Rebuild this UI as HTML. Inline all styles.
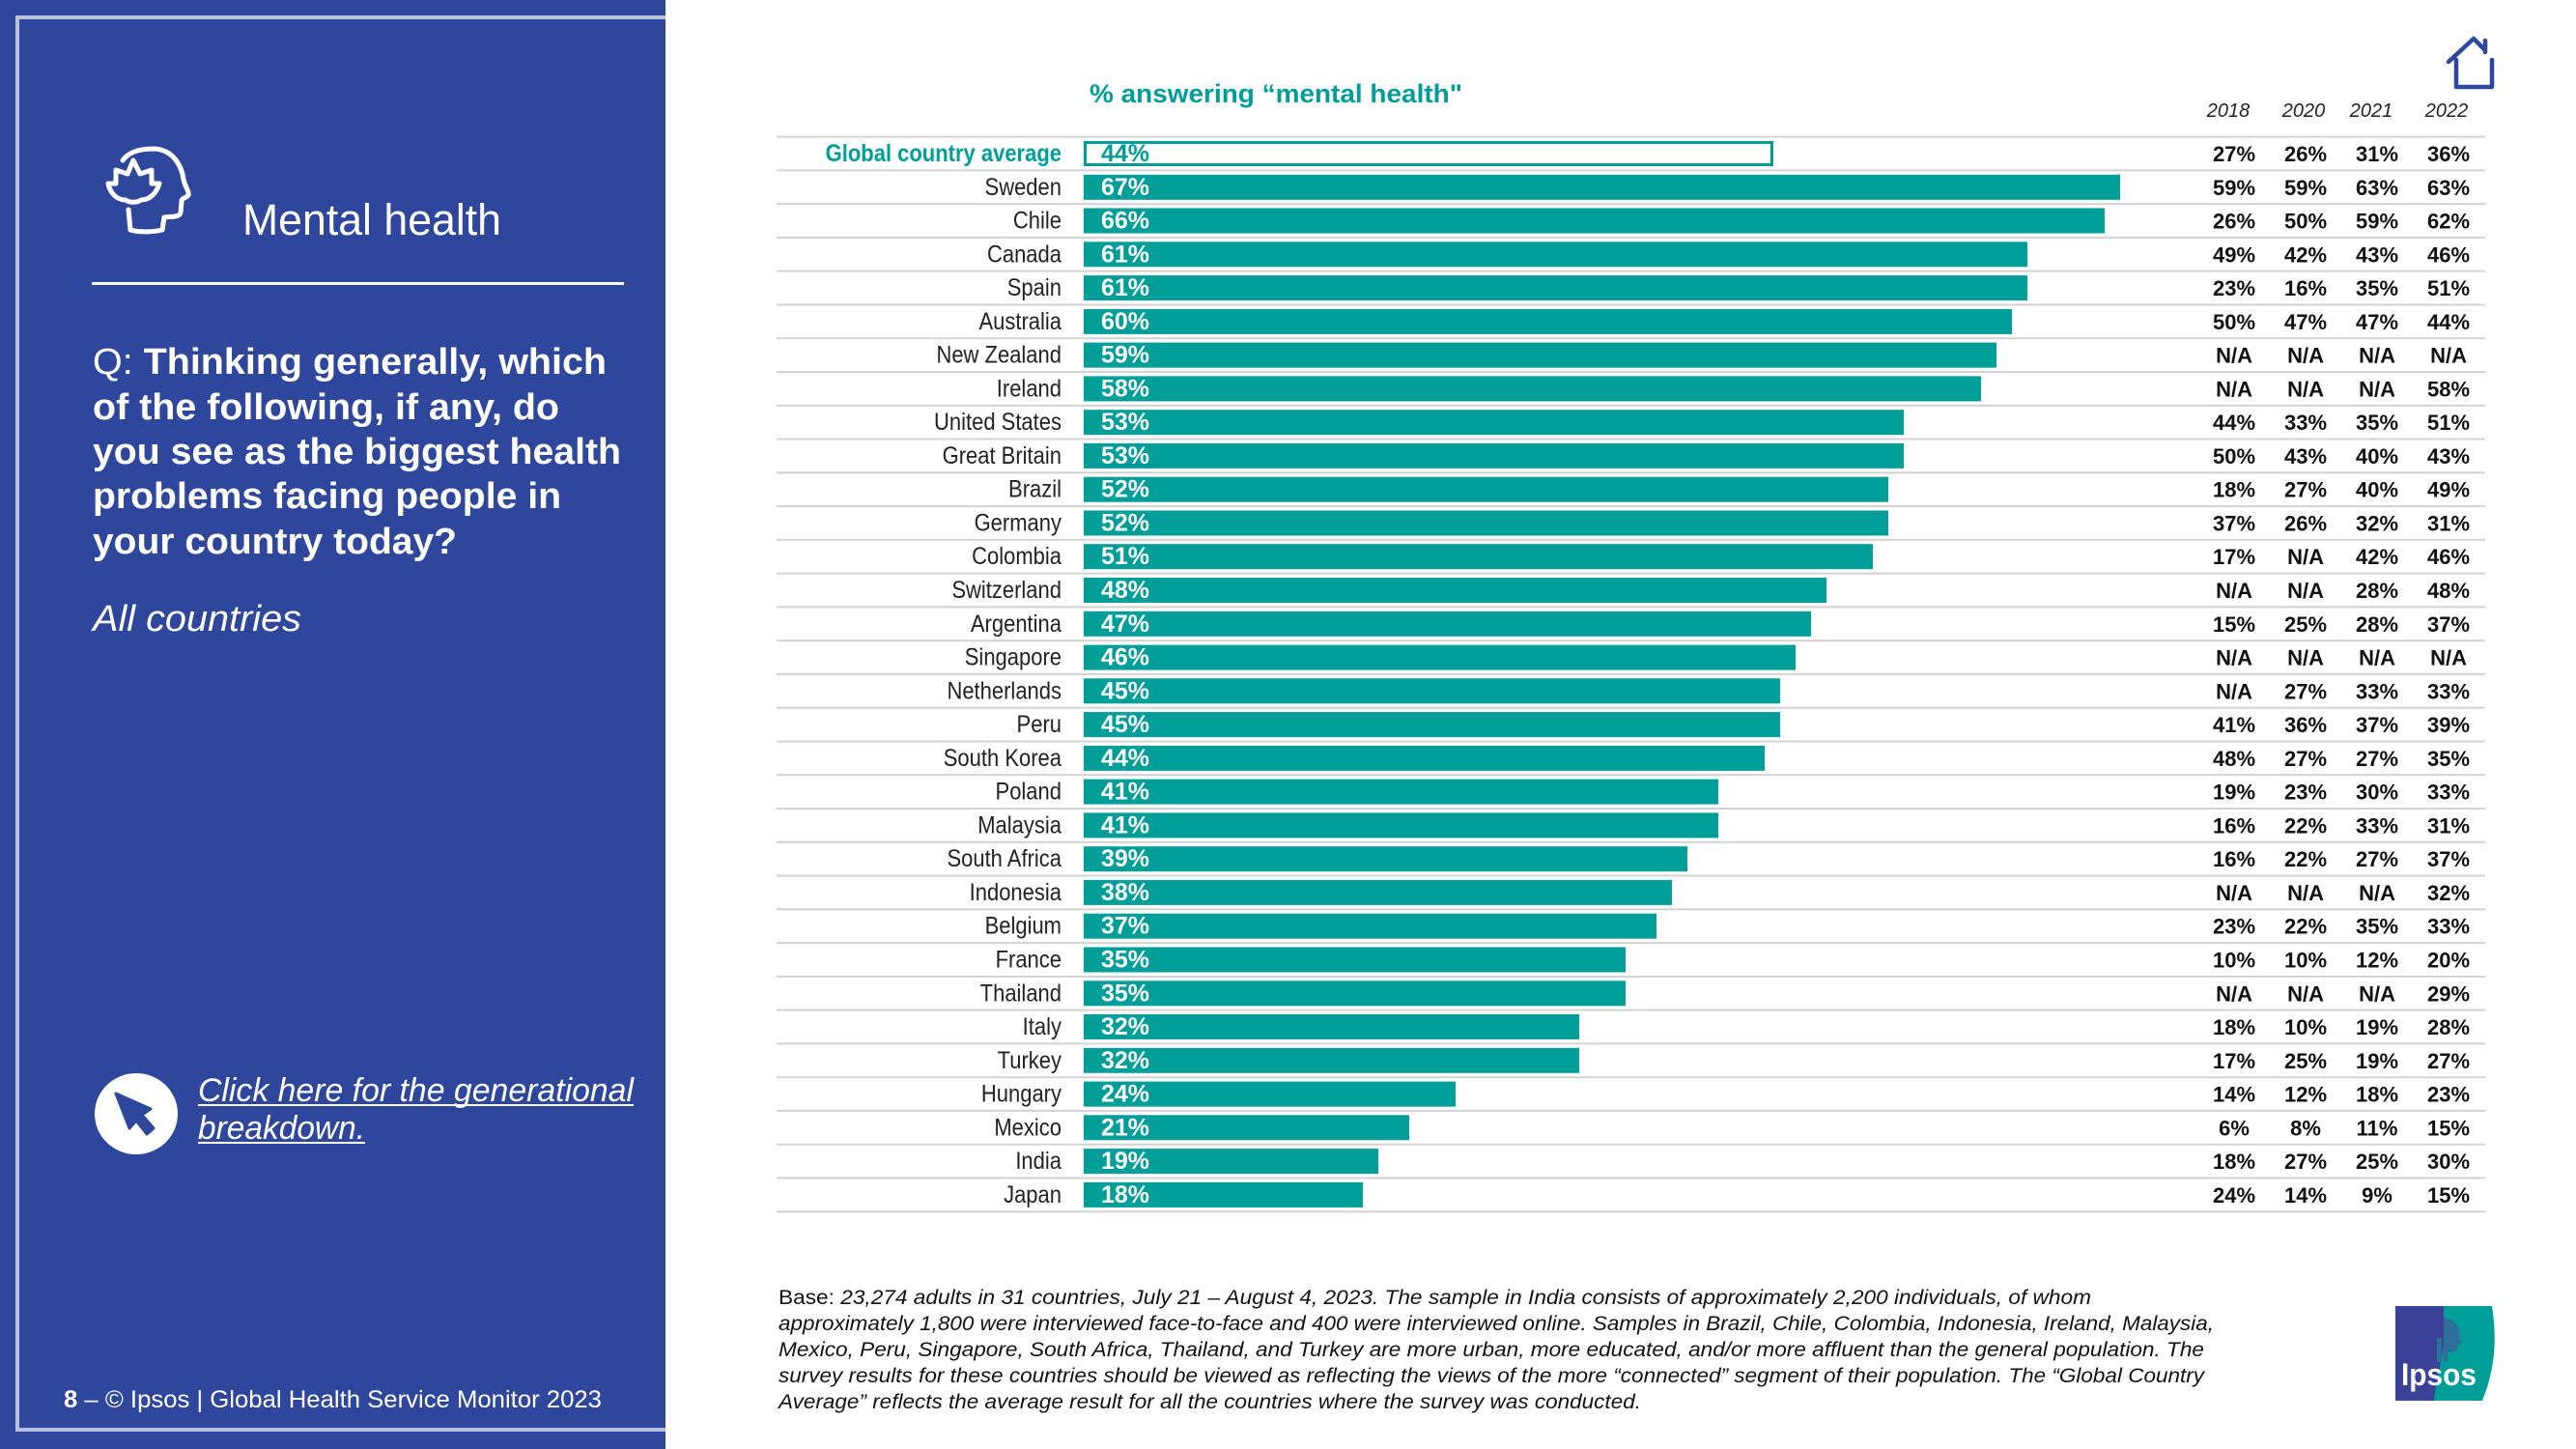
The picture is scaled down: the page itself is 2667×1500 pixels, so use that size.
<!DOCTYPE html>
<html><head><meta charset="utf-8"><style>
html,body{margin:0;padding:0;background:#fff}
svg{display:block}
text{font-family:"Liberation Sans",Arial,sans-serif}
</style></head><body>
<svg width="2667" height="1500" viewBox="0 0 2667 1500" xmlns="http://www.w3.org/2000/svg">
<rect x="0" y="0" width="689" height="1500" fill="#2e479c"/>
<path d="M689,18 H18 V1480 H689" fill="none" stroke="#b9c0de" stroke-width="4"/>
<!-- head icon -->
<g fill="none" stroke="#fff" stroke-width="5" stroke-linecap="round" stroke-linejoin="round">
<path d="M127,166 C135,155 150,154 160,154 C178,155 188,170 190,186 C192,194 196,198 195,202 C193,205 188,205 188,208 L187,220 C186,225 178,224 170,225 L168,238 C160,240 145,241 135,238 L133,217"/>
<path d="M112,190 L120,190 L120,176 L132,180 L138,166 L145,180 L157,176 L157,190 L165,190 C162,200 155,207 146,207 C142,210 134,210 130,207 C121,207 114,200 112,190 Z"/>
</g>
<text x="251" y="243" font-size="45" fill="#fff" textLength="268" lengthAdjust="spacingAndGlyphs">Mental health</text>
<rect x="95" y="292" width="551" height="3" fill="#fff"/>
<g fill="#fff" font-size="38">
<text x="96" y="387" textLength="532" lengthAdjust="spacingAndGlyphs">Q: <tspan font-weight="bold">Thinking generally, which</tspan></text>
<text x="96" y="434" font-weight="bold" textLength="483" lengthAdjust="spacingAndGlyphs">of the following, if any, do</text>
<text x="96" y="480" font-weight="bold" textLength="547" lengthAdjust="spacingAndGlyphs">you see as the biggest health</text>
<text x="96" y="526" font-weight="bold" textLength="485" lengthAdjust="spacingAndGlyphs">problems facing people in</text>
<text x="96" y="573" font-weight="bold" textLength="377" lengthAdjust="spacingAndGlyphs">your country today?</text>
<text x="96" y="653" font-style="italic" textLength="216" lengthAdjust="spacingAndGlyphs">All countries</text>
</g>
<ellipse cx="141" cy="1153" rx="43" ry="42" fill="#fff"/>
<path d="M120,1132 L156,1148 L147,1154 L159,1168 L152,1174 L141,1160 L134,1168 Z" fill="#2e479c" stroke="#2e479c" stroke-width="3" stroke-linejoin="round"/>
<g fill="#fff" font-size="34" font-style="italic">
<text x="205" y="1140" textLength="451" lengthAdjust="spacingAndGlyphs">Click here for the generational</text>
<text x="205" y="1179" textLength="173" lengthAdjust="spacingAndGlyphs">breakdown.</text>
</g>
<rect x="205" y="1143" width="451" height="2" fill="#fff"/>
<rect x="205" y="1182" width="173" height="2" fill="#fff"/>
<text x="66" y="1457" font-size="25" fill="#fff" textLength="557" lengthAdjust="spacingAndGlyphs"><tspan font-weight="bold">8</tspan> – © Ipsos | Global Health Service Monitor 2023</text>

<!-- home icon -->
<path d="M2535,64 L2561,40 L2573,52 M2573,42 V54 M2543,62 V90 H2580 V62" fill="none" stroke="#2e479c" stroke-width="4.5" stroke-linecap="round" stroke-linejoin="round"/>

<text x="1128" y="106" font-size="27" font-weight="bold" fill="#009e99" textLength="386" lengthAdjust="spacingAndGlyphs">% answering “mental health"</text>
<g font-size="20" font-style="italic" fill="#222" text-anchor="middle">
<text x="2307" y="121">2018</text><text x="2385" y="121">2020</text><text x="2455" y="121">2021</text><text x="2533" y="121">2022</text>
</g>

<!-- row lines -->
<g fill="#d3d3d3">
<rect x="804" y="140.6" width="1769" height="2"/><rect x="804" y="175.4" width="1769" height="2"/><rect x="804" y="210.1" width="1769" height="2"/><rect x="804" y="244.9" width="1769" height="2"/><rect x="804" y="279.7" width="1769" height="2"/><rect x="804" y="314.5" width="1769" height="2"/><rect x="804" y="349.2" width="1769" height="2"/><rect x="804" y="384" width="1769" height="2"/><rect x="804" y="418.8" width="1769" height="2"/><rect x="804" y="453.5" width="1769" height="2"/><rect x="804" y="488.3" width="1769" height="2"/><rect x="804" y="523.1" width="1769" height="2"/><rect x="804" y="557.8" width="1769" height="2"/><rect x="804" y="592.6" width="1769" height="2"/><rect x="804" y="627.4" width="1769" height="2"/><rect x="804" y="662.2" width="1769" height="2"/><rect x="804" y="696.9" width="1769" height="2"/><rect x="804" y="731.7" width="1769" height="2"/><rect x="804" y="766.5" width="1769" height="2"/><rect x="804" y="801.2" width="1769" height="2"/><rect x="804" y="836" width="1769" height="2"/><rect x="804" y="870.8" width="1769" height="2"/><rect x="804" y="905.5" width="1769" height="2"/><rect x="804" y="940.3" width="1769" height="2"/><rect x="804" y="975.1" width="1769" height="2"/><rect x="804" y="1009.9" width="1769" height="2"/><rect x="804" y="1044.6" width="1769" height="2"/><rect x="804" y="1079.4" width="1769" height="2"/><rect x="804" y="1114.2" width="1769" height="2"/><rect x="804" y="1148.9" width="1769" height="2"/><rect x="804" y="1183.7" width="1769" height="2"/><rect x="804" y="1218.5" width="1769" height="2"/><rect x="804" y="1253.3" width="1769" height="2"/>
</g>

<!-- bars -->
<rect x="1123.5" y="147.5" width="711" height="23" fill="#fff" stroke="#009e99" stroke-width="3"/>
<g fill="#009e99">
<rect x="1122" y="180.8" width="1073" height="26"/>
<rect x="1122" y="215.5" width="1057" height="26"/>
<rect x="1122" y="250.3" width="977" height="26"/>
<rect x="1122" y="285.1" width="977" height="26"/>
<rect x="1122" y="319.9" width="961" height="26"/>
<rect x="1122" y="354.6" width="945" height="26"/>
<rect x="1122" y="389.4" width="929" height="26"/>
<rect x="1122" y="424.2" width="849" height="26"/>
<rect x="1122" y="458.9" width="849" height="26"/>
<rect x="1122" y="493.7" width="833" height="26"/>
<rect x="1122" y="528.5" width="833" height="26"/>
<rect x="1122" y="563.2" width="817" height="26"/>
<rect x="1122" y="598" width="769" height="26"/>
<rect x="1122" y="632.8" width="753" height="26"/>
<rect x="1122" y="667.6" width="737" height="26"/>
<rect x="1122" y="702.3" width="721" height="26"/>
<rect x="1122" y="737.1" width="721" height="26"/>
<rect x="1122" y="771.9" width="705" height="26"/>
<rect x="1122" y="806.6" width="657" height="26"/>
<rect x="1122" y="841.4" width="657" height="26"/>
<rect x="1122" y="876.2" width="625" height="26"/>
<rect x="1122" y="910.9" width="609" height="26"/>
<rect x="1122" y="945.7" width="593" height="26"/>
<rect x="1122" y="980.5" width="561" height="26"/>
<rect x="1122" y="1015.3" width="561" height="26"/>
<rect x="1122" y="1050" width="513" height="26"/>
<rect x="1122" y="1084.8" width="513" height="26"/>
<rect x="1122" y="1119.6" width="385" height="26"/>
<rect x="1122" y="1154.3" width="337" height="26"/>
<rect x="1122" y="1189.1" width="305" height="26"/>
<rect x="1122" y="1223.9" width="289" height="26"/>
</g>
<!-- bar values -->
<g font-size="25" font-weight="bold" fill="#fff">
<text x="1140" y="167" fill="#009e99">44%</text>
<text x="1140" y="201.8">67%</text><text x="1140" y="236.5">66%</text><text x="1140" y="271.3">61%</text><text x="1140" y="306.1">61%</text><text x="1140" y="340.9">60%</text><text x="1140" y="375.6">59%</text><text x="1140" y="410.4">58%</text><text x="1140" y="445.2">53%</text><text x="1140" y="479.9">53%</text><text x="1140" y="514.7">52%</text><text x="1140" y="549.5">52%</text><text x="1140" y="584.2">51%</text><text x="1140" y="619">48%</text><text x="1140" y="653.8">47%</text><text x="1140" y="688.6">46%</text><text x="1140" y="723.3">45%</text><text x="1140" y="758.1">45%</text><text x="1140" y="792.9">44%</text><text x="1140" y="827.6">41%</text><text x="1140" y="862.4">41%</text><text x="1140" y="897.2">39%</text><text x="1140" y="931.9">38%</text><text x="1140" y="966.7">37%</text><text x="1140" y="1001.5">35%</text><text x="1140" y="1036.3">35%</text><text x="1140" y="1071">32%</text><text x="1140" y="1105.8">32%</text><text x="1140" y="1140.6">24%</text><text x="1140" y="1175.3">21%</text><text x="1140" y="1210.1">19%</text><text x="1140" y="1244.9">18%</text>
</g>
<!-- labels -->
<g transform="translate(1099,0) scale(0.88,1)" font-size="25" fill="#222" text-anchor="end">
<text x="0" y="167" fill="#009e99" font-weight="bold">Global country average</text>
<text x="0" y="201.8">Sweden</text><text x="0" y="236.5">Chile</text><text x="0" y="271.3">Canada</text><text x="0" y="306.1">Spain</text><text x="0" y="340.9">Australia</text><text x="0" y="375.6">New Zealand</text><text x="0" y="410.4">Ireland</text><text x="0" y="445.2">United States</text><text x="0" y="479.9">Great Britain</text><text x="0" y="514.7">Brazil</text><text x="0" y="549.5">Germany</text><text x="0" y="584.2">Colombia</text><text x="0" y="619">Switzerland</text><text x="0" y="653.8">Argentina</text><text x="0" y="688.6">Singapore</text><text x="0" y="723.3">Netherlands</text><text x="0" y="758.1">Peru</text><text x="0" y="792.9">South Korea</text><text x="0" y="827.6">Poland</text><text x="0" y="862.4">Malaysia</text><text x="0" y="897.2">South Africa</text><text x="0" y="931.9">Indonesia</text><text x="0" y="966.7">Belgium</text><text x="0" y="1001.5">France</text><text x="0" y="1036.3">Thailand</text><text x="0" y="1071">Italy</text><text x="0" y="1105.8">Turkey</text><text x="0" y="1140.6">Hungary</text><text x="0" y="1175.3">Mexico</text><text x="0" y="1210.1">India</text><text x="0" y="1244.9">Japan</text>
</g>
<!-- year columns -->
<g font-size="22" font-weight="bold" fill="#111" text-anchor="middle">
<g transform="translate(2313,0)">
<text y="167">27%</text><text y="201.8">59%</text><text y="236.5">26%</text><text y="271.3">49%</text><text y="306.1">23%</text><text y="340.9">50%</text><text y="375.6">N/A</text><text y="410.4">N/A</text><text y="445.2">44%</text><text y="479.9">50%</text><text y="514.7">18%</text><text y="549.5">37%</text><text y="584.2">17%</text><text y="619">N/A</text><text y="653.8">15%</text><text y="688.6">N/A</text><text y="723.3">N/A</text><text y="758.1">41%</text><text y="792.9">48%</text><text y="827.6">19%</text><text y="862.4">16%</text><text y="897.2">16%</text><text y="931.9">N/A</text><text y="966.7">23%</text><text y="1001.5">10%</text><text y="1036.3">N/A</text><text y="1071">18%</text><text y="1105.8">17%</text><text y="1140.6">14%</text><text y="1175.3">6%</text><text y="1210.1">18%</text><text y="1244.9">24%</text>
</g>
<g transform="translate(2387,0)">
<text y="167">26%</text><text y="201.8">59%</text><text y="236.5">50%</text><text y="271.3">42%</text><text y="306.1">16%</text><text y="340.9">47%</text><text y="375.6">N/A</text><text y="410.4">N/A</text><text y="445.2">33%</text><text y="479.9">43%</text><text y="514.7">27%</text><text y="549.5">26%</text><text y="584.2">N/A</text><text y="619">N/A</text><text y="653.8">25%</text><text y="688.6">N/A</text><text y="723.3">27%</text><text y="758.1">36%</text><text y="792.9">27%</text><text y="827.6">23%</text><text y="862.4">22%</text><text y="897.2">22%</text><text y="931.9">N/A</text><text y="966.7">22%</text><text y="1001.5">10%</text><text y="1036.3">N/A</text><text y="1071">10%</text><text y="1105.8">25%</text><text y="1140.6">12%</text><text y="1175.3">8%</text><text y="1210.1">27%</text><text y="1244.9">14%</text>
</g>
<g transform="translate(2461,0)">
<text y="167">31%</text><text y="201.8">63%</text><text y="236.5">59%</text><text y="271.3">43%</text><text y="306.1">35%</text><text y="340.9">47%</text><text y="375.6">N/A</text><text y="410.4">N/A</text><text y="445.2">35%</text><text y="479.9">40%</text><text y="514.7">40%</text><text y="549.5">32%</text><text y="584.2">42%</text><text y="619">28%</text><text y="653.8">28%</text><text y="688.6">N/A</text><text y="723.3">33%</text><text y="758.1">37%</text><text y="792.9">27%</text><text y="827.6">30%</text><text y="862.4">33%</text><text y="897.2">27%</text><text y="931.9">N/A</text><text y="966.7">35%</text><text y="1001.5">12%</text><text y="1036.3">N/A</text><text y="1071">19%</text><text y="1105.8">19%</text><text y="1140.6">18%</text><text y="1175.3">11%</text><text y="1210.1">25%</text><text y="1244.9">9%</text>
</g>
<g transform="translate(2535,0)">
<text y="167">36%</text><text y="201.8">63%</text><text y="236.5">62%</text><text y="271.3">46%</text><text y="306.1">51%</text><text y="340.9">44%</text><text y="375.6">N/A</text><text y="410.4">58%</text><text y="445.2">51%</text><text y="479.9">43%</text><text y="514.7">49%</text><text y="549.5">31%</text><text y="584.2">46%</text><text y="619">48%</text><text y="653.8">37%</text><text y="688.6">N/A</text><text y="723.3">33%</text><text y="758.1">39%</text><text y="792.9">35%</text><text y="827.6">33%</text><text y="862.4">31%</text><text y="897.2">37%</text><text y="931.9">32%</text><text y="966.7">33%</text><text y="1001.5">20%</text><text y="1036.3">29%</text><text y="1071">28%</text><text y="1105.8">27%</text><text y="1140.6">23%</text><text y="1175.3">15%</text><text y="1210.1">30%</text><text y="1244.9">15%</text>
</g>
</g>

<!-- footnote -->
<g font-size="21" fill="#111" font-style="italic">
<text x="806" y="1350" textLength="1359" lengthAdjust="spacingAndGlyphs"><tspan font-style="normal">Base: </tspan>23,274 adults in 31 countries, July 21 – August 4, 2023. The sample in India consists of approximately 2,200 individuals, of whom</text>
<text x="806" y="1377" textLength="1486" lengthAdjust="spacingAndGlyphs">approximately 1,800 were interviewed face-to-face and 400 were interviewed online. Samples in Brazil, Chile, Colombia, Indonesia, Ireland, Malaysia,</text>
<text x="806" y="1404" textLength="1476" lengthAdjust="spacingAndGlyphs">Mexico, Peru, Singapore, South Africa, Thailand, and Turkey are more urban, more educated, and/or more affluent than the general population. The</text>
<text x="806" y="1431" textLength="1476" lengthAdjust="spacingAndGlyphs">survey results for these countries should be viewed as reflecting the views of the more “connected” segment of their population. The “Global Country</text>
<text x="806" y="1458" textLength="893" lengthAdjust="spacingAndGlyphs">Average” reflects the average result for all the countries where the survey was conducted.</text>
</g>

<!-- Ipsos logo -->
<path d="M2480,1352 H2580 C2586,1390 2582,1420 2570,1450 H2480 Z" fill="#009e99"/>
<path d="M2480,1352 H2530 V1395 C2525,1420 2522,1435 2520,1450 H2480 Z" fill="#3a4197"/>
<circle cx="2527" cy="1376" r="12" fill="#3a4197" opacity="0.9"/>
<path d="M2530,1365 C2545,1365 2548,1380 2546,1385 L2549,1390 L2545,1392 C2546,1400 2540,1400 2534,1400 L2534,1410 L2530,1410 Z" fill="#2e6f9a"/>
<rect x="2523" y="1385" width="5" height="25" fill="#2e6f9a"/>
<text x="2486" y="1434" font-size="32" font-weight="bold" fill="#fff" textLength="78" lengthAdjust="spacingAndGlyphs">Ipsos</text>
</svg>
</body></html>
